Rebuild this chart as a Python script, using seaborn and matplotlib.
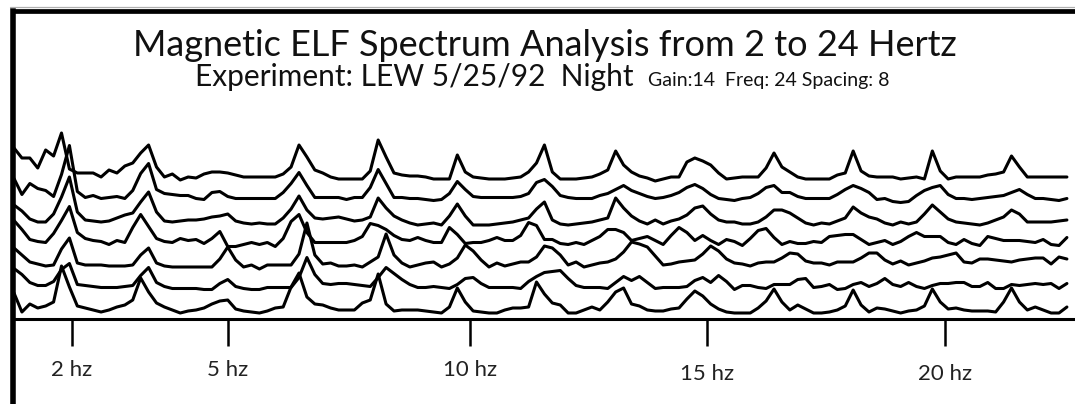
import numpy as np
import pandas as pd
import matplotlib
matplotlib.use("Agg")
import matplotlib.pyplot as plt
from matplotlib.lines import Line2D
from matplotlib.transforms import ScaledTranslation
import seaborn as sns

# ---------------- data ----------------
freq_start = 0.4          # Hz of first bin
freq_step = 1.0 / 6.0     # Hz per bin
spacing = 22.5            # vertical offset between successive traces
first_offset = 7.0

# amplitudes of each trace above its own baseline (bottom trace = series_1)
series_1 = [19, 0, 8, 4, 6, 10, 46, 25, 6, 4,
            2, 0, 2, 5, 7, 12, 34, 20, 9, 5,
            2, -1, 1, 2, 4, 8, 11, 12, 3, 1,
            0, -1, 1, 4, 5, 25, 39, 15, 8, 7,
            4, 2, 2, 2, 9, 12, 38, 8, 1, 2,
            2, 2, 1, 0, -1, 5, 24, 10, 1, 0,
            -1, -1, 2, 4, 4, 5, 30, 18, 9, 7,
            -1, -1, 2, 5, 2, 10, 20, 24, 8, 6,
            2, 1, 1, 3, 4, 13, 21, 16, 8, 3,
            0, -1, -1, -1, 4, 11, 23, 10, 2, 7,
            3, -1, -1, 0, 2, 6, 22, 7, 0, 4,
            3, 1, -1, 1, 2, 6, 23, 10, 3, 4,
            2, 1, 1, 1, 0, 10, 24, 10, 2, 5,
            2, -1, -1, 5]
series_2 = [21, 15, 7, 4, 4, 8, 20, 26, 5, 4,
            3, 2, 2, 2, 3, 4, 14, 22, 7, 3,
            1, 1, 1, 1, 0, 0, 6, 10, 3, 1,
            0, 0, 2, 2, 2, 2, 12, 32, 15, 6,
            5, 6, 6, 5, 4, 3, 12, 22, 16, 10,
            5, 2, 2, 3, 2, 1, 5, 11, 12, 6,
            2, 2, 2, 2, 1, 8, 13, 17, 18, 19,
            11, 4, 2, 2, 2, 1, 7, 13, 9, 13,
            7, 1, 2, 2, 2, 3, 9, 12, 7, 14,
            8, 0, 4, 4, 2, 1, 5, 5, 5, 10,
            11, 2, 3, 5, 0, 1, 5, 7, 3, 6,
            11, 5, 3, 7, 3, 1, 4, 6, 6, 7,
            7, 3, 3, 7, 1, 1, 5, 4, 5, 6,
            5, 6, 1, 6]
series_3 = [19, 12, 5, 3, 1, 2, 18, 29, 4, 2,
            2, 2, 1, 1, 1, 2, 12, 19, 4, 1,
            0, 0, 0, 0, 0, 0, 8, 20, 7, 0,
            2, -2, 2, 2, 2, 2, 13, 44, 12, 3,
            4, 1, 1, 2, 0, 5, 10, 33, 12, 4,
            0, 2, 4, 5, 0, 3, 9, 22, 16, 7,
            0, 4, 1, 3, 5, 5, 10, 21, 19, 12,
            2, 5, 0, 2, 4, 5, 8, 15, 25, 23,
            20, 11, 2, 3, 5, 6, 7, 13, 21, 16,
            8, 4, 3, 1, 4, 5, 5, 9, 14, 13,
            6, 4, 4, 2, 5, 5, 5, 9, 14, 14,
            7, 3, 6, 2, 4, 6, 9, 10, 12, 14,
            5, 4, 8, 8, 7, 6, 5, 7, 8, 9,
            9, 3, 10, 8]
series_4 = [24, 15, 5, 3, 2, 11, 24, 38, 12, 6,
            4, 3, 0, 4, 2, 17, 30, 18, 6, 3,
            2, 6, 4, 5, 1, 6, 13, -2, -2, 0,
            2, 0, 2, -2, 6, 23, 30, 12, 2, 2,
            2, 2, 2, 4, 8, 21, 19, 15, 9, 5,
            4, 7, 4, 2, 2, 17, 10, 1, 2, 2,
            4, 7, 4, 4, 9, 22, 19, 5, 5, 1,
            0, 2, 0, 4, 8, 15, 15, 12, 4, 6,
            8, 4, 0, 9, 17, 12, 4, 9, 4, 0,
            5, 3, -1, 6, 14, 16, 7, 0, 3, 1,
            1, 3, 2, 8, 9, 10, 10, 5, 0, 2,
            4, 0, 3, 8, 12, 8, 8, 8, 2, 0,
            5, 1, -1, 8, 6, 4, 4, 4, 3, 2,
            5, 0, -1, 7]
series_5 = [17, 11, 3, 0, 0, 8, 25, 45, 10, 2,
            1, 0, 1, 4, 7, 9, 20, 30, 10, 1,
            0, 1, 2, 2, 3, 5, 6, 8, 1, -1,
            -2, -1, -2, -2, 4, 13, 26, 12, 4, 3,
            4, 5, 3, 1, 2, 5, 24, 14, 6, 2,
            -1, -3, -2, -1, -3, 6, 18, 6, -3, -3,
            -3, -2, -1, 0, 2, 4, 13, 20, 2, -2,
            -3, -2, -1, 0, 2, 4, 24, 14, 6, 1,
            -2, 2, -2, 1, 3, 7, 14, 16, 8, 2,
            0, 0, -2, -2, 0, 5, 12, 12, 9, 4,
            -1, -3, -1, -2, 1, 4, 15, 9, 5, 3,
            -1, -3, 0, -2, 0, 8, 17, 10, 3, 0,
            -1, -2, -3, -1, 2, 5, 12, 8, 0, 0,
            0, 0, 1, 2]
series_6 = [21, 5, 16, 11, 9, 3, 25, 54, 8, 2,
            4, 1, 2, 3, 1, 9, 26, 36, 10, 6,
            5, 4, 4, 1, 0, 7, 8, 3, 1, 1,
            1, 1, 1, 1, 7, 16, 27, 14, 2, 2,
            2, 2, 0, 2, 2, 12, 30, 16, 2, 2,
            1, 1, 0, -1, 0, 6, 18, 10, 3, 2,
            2, 2, 2, 2, 3, 6, 17, 20, 13, 4,
            2, 1, 1, 1, 4, 6, 10, 14, 9, 6,
            3, 1, 2, 4, 7, 12, 15, 11, 5, 1,
            0, -1, 1, 2, 6, 12, 14, 7, 7, 3,
            1, 1, 1, 1, 5, 10, 14, 11, 7, 0,
            1, -2, -3, -2, 4, 9, 12, 14, 5, 1,
            1, 0, 1, 2, 3, 4, 7, 10, 5, 1,
            1, 0, -1, 1]
series_7 = [29, 19, 19, 9, 27, 21, 44, 8, 4, 4,
            4, 0, 7, 4, 11, 14, 24, 32, 10, 0,
            3, -3, 0, -1, 3, 5, 5, 4, 2, 0,
            0, 0, 0, 0, 3, 10, 32, 20, 7, 4,
            0, -2, -2, -2, -2, 6, 37, 20, 4, 2,
            1, 1, 0, -2, -2, -2, 22, 5, 0, -1,
            -2, -2, -2, -1, 0, 5, 14, 32, 5, -2,
            -2, -2, -1, 0, 3, 7, 26, 12, 5, 1,
            -1, -4, -2, 0, 0, 15, 19, 16, 12, 4,
            -2, -1, 0, 0, 0, 9, 24, 10, 5, 0,
            -2, -2, -2, -2, 2, 4, 26, 6, 1, 0,
            0, 0, -2, -1, 0, -2, 26, 6, -2, 0,
            0, 0, 0, 2, 3, 5, 21, 10, 0, 0,
            0, 0, 0, 0]

series_list = [series_1, series_2, series_3, series_4, series_5, series_6, series_7]

tick_hz = [1.62, 4.9, 10.0, 14.99, 20.0]
tick_labels = ["2 hz", "5 hz", "10 hz", "15 hz", "20 hz"]

title = "Magnetic ELF Spectrum Analysis from 2 to 24 Hertz"
subtitle_main = "Experiment: LEW 5/25/92  Night"
subtitle_small = "Gain:14  Freq: 24 Spacing: 8"

# ---------------- build long table ----------------
n = len(series_1)
freq = freq_start + freq_step * np.arange(n)
rows = []
for i, s in enumerate(series_list):
    assert len(s) == n, (i, len(s))
    off = first_offset + spacing * i
    for f, v in zip(freq, s):
        rows.append({"freq": f, "level": v + off, "trace": f"t{i+1}"})
df = pd.DataFrame(rows)

# ---------------- figure ----------------
sns.set_style("white")
plt.rcParams["font.family"] = ["Lato", "DejaVu Sans"]

W, H = 1075, 404
fig = plt.figure(figsize=(W / 100, H / 100), dpi=100)
left_px, top_px = 12.8, 11.2
ax = fig.add_axes([left_px / W, 0, 1 - left_px / W, (H - top_px) / H])

sns.lineplot(data=df, x="freq", y="level", hue="trace",
             palette=["black"] * 7, legend=False, estimator=None,
             sort=False, linewidth=2.2, ax=ax)

px_per_hz = 47.5
def px_to_hz(px):
    return 10 + (px - 470) / px_per_hz

ax.set_xlim(px_to_hz(left_px), px_to_hz(W))
ax.set_ylim(-(H - 319), 319 - top_px)
ax.set_xlabel("")
ax.set_ylabel("")
ax.set_yticks([])

ax.spines["right"].set_visible(False)
ax.spines["left"].set_linewidth(4.0)
ax.spines["top"].set_linewidth(3.4)
ax.spines["bottom"].set_position(("data", 0))
ax.spines["bottom"].set_linewidth(2.2)
for sp in ax.spines.values():
    sp.set_color("black")

ax.set_xticks(tick_hz)
ax.set_xticklabels(tick_labels)
ax.tick_params(axis="x", which="major", bottom=True, top=False,
               direction="out", length=19.5, width=1.8, color="black",
               pad=10, labelsize=16, labelcolor="#222222")
# the 15 hz and 20 hz labels sit a little lower in the original
for lab in ax.get_xticklabels()[3:]:
    lab.set_transform(lab.get_transform() +
                      ScaledTranslation(0, -0.04, fig.dpi_scale_trans))

# thin grey rule above the frame
fig.add_artist(Line2D([10 / W, 1], [1 - 7 / H, 1 - 7 / H], color="#b0b0b0", lw=0.9))

fig.text(545 / W, 1 - 56 / H, title, ha="center", va="baseline",
         fontsize=26, color="#111111")

# subtitle: large part followed by small part, group centred under the title
renderer = fig.canvas.get_renderer()
t_main = fig.text(0, 1 - 86 / H, subtitle_main, ha="left", va="baseline",
                  fontsize=21.5, color="#111111")
t_small = fig.text(0, 1 - 86 / H, subtitle_small, ha="left", va="baseline",
                   fontsize=14, color="#111111")
w_main = t_main.get_window_extent(renderer).width
w_small = t_small.get_window_extent(renderer).width
gap = 14
centre = 542
x_main = centre - (w_main + gap + w_small) / 2
t_main.set_x(x_main / W)
t_small.set_x((x_main + w_main + gap) / W)

fig.savefig("out.png", dpi=100)
